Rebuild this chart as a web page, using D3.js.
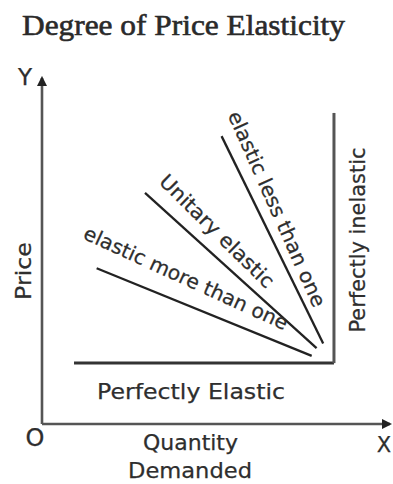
<!DOCTYPE html>
<html>
<head>
<meta charset="utf-8">
<script src="https://cdn.jsdelivr.net/npm/d3@7"></script>
<style>
  html, body { margin: 0; padding: 0; background: #fff; }
  svg { display: block; }
  text { fill: #2e2e2e; font-family: "DejaVu Sans", sans-serif; stroke: #2e2e2e; stroke-width: 0.25; }
</style>
</head>
<body>
<svg id="chart" width="393" height="484"></svg>
<script>
// Demand curves of different elasticity, in diagram units (quantity, price)
const curveNames = ["Perfectly Elastic", "Perfectly inelastic", "elastic more than one", "Unitary elastic", "elastic less than one"];
const perfectlyElastic   = [[9.2, 17.6], [83.9, 17.6]];
const perfectlyInelastic = [[83.9, 17.6], [83.9, 89.9]];
const elasticMoreThanOne = [[15.7, 45.0], [77.5, 19.7]];
const unitaryElastic     = [[29.6, 66.8], [78.9, 21.9]];
const elasticLessThanOne = [[51.6, 83.2], [80.8, 23.3]];

const titleText = "Degree of Price Elasticity";
const xAxisLabel = ["Quantity", "Demanded"];
const yAxisLabel = "Price";

const svg = d3.select("#chart");

const x = d3.scaleLinear().domain([0, 100]).range([42, 390]);
const y = d3.scaleLinear().domain([0, 100]).range([424, 78]);

// Arrowhead for the axes
svg.append("defs").append("marker")
  .attr("id", "arrow")
  .attr("viewBox", "0 0 10 10")
  .attr("refX", 8).attr("refY", 5)
  .attr("markerWidth", 4).attr("markerHeight", 4)
  .attr("orient", "auto")
  .append("path").attr("d", "M0,0 L10,5 L0,10 Z").attr("fill", "#222");

// Title
svg.append("text")
  .attr("x", 22).attr("y", 35)
  .attr("textLength", 323).attr("lengthAdjust", "spacingAndGlyphs")
  .style("font-family", "'Liberation Serif', serif")
  .style("font-size", "30px")
  .style("fill", "#2a2a2a")
  .style("stroke", "#2a2a2a").style("stroke-width", 0.6)
  .text(titleText);

// Axes without ticks
const xAxis = svg.append("g").attr("transform", `translate(0,${y(0)})`)
  .call(d3.axisBottom(x).tickValues([]).tickSizeOuter(0));
const yAxis = svg.append("g").attr("transform", `translate(${x(0)},0)`)
  .call(d3.axisLeft(y).tickValues([]).tickSizeOuter(0));
[xAxis, yAxis].forEach(g => g.select(".domain")
  .attr("stroke", "#555").attr("stroke-width", 2.6)
  .attr("marker-end", "url(#arrow)"));
// draw the domains from the origin outwards so the arrows sit at the far ends
yAxis.select(".domain").attr("d", `M0,${y(0)}V${y(100)}`);
xAxis.select(".domain").attr("d", `M${x(0)},0H${x(100)}`);

// Curves
const line = d3.line().x(d => x(d[0])).y(d => y(d[1]));
const curves = [
  { data: perfectlyElastic,   color: "#333", width: 3 },
  { data: perfectlyInelastic, color: "#555", width: 3 },
  { data: elasticMoreThanOne, color: "#222", width: 2.3 },
  { data: unitaryElastic,     color: "#222", width: 2.3 },
  { data: elasticLessThanOne, color: "#222", width: 2.3 }
];
svg.append("g").selectAll("path").data(curves).join("path")
  .attr("d", d => line(d.data))
  .attr("fill", "none")
  .attr("stroke", d => d.color)
  .attr("stroke-width", d => d.width)
  .attr("stroke-linecap", "butt");

// Curve labels
const labels = [
  { text: curveNames[0], cx: 191, cy: 391, angle: 0,   size: 22, len: 188 },
  { text: curveNames[1], cx: 357, cy: 240, angle: -90, size: 22, len: 185 },
  { text: curveNames[2], cx: 186, cy: 278, angle: 24.5, size: 20, len: 222 },
  { text: curveNames[3], cx: 217, cy: 231, angle: 44.5, size: 20, len: 152 },
  { text: curveNames[4], cx: 277, cy: 209, angle: 66,  size: 20, len: 212 }
];
svg.append("g").selectAll("text").data(labels).join("text")
  .attr("transform", d => `translate(${d.cx},${d.cy}) rotate(${d.angle})`)
  .attr("text-anchor", "middle")
  .attr("dominant-baseline", "central")
  .attr("textLength", d => d.len)
  .attr("lengthAdjust", "spacingAndGlyphs")
  .style("font-size", d => d.size + "px")
  .text(d => d.text);

// Axis letters and titles
svg.append("text").attr("x", 25).attr("y", 85).attr("text-anchor", "middle")
  .style("font-size", "23px").text("Y");
svg.append("text").attr("x", 35).attr("y", 446).attr("text-anchor", "middle")
  .style("font-size", "24px").text("O");
svg.append("text").attr("x", 384).attr("y", 452).attr("text-anchor", "middle")
  .style("font-size", "21px").text("X");

svg.append("text")
  .attr("transform", "translate(23,271) rotate(-90)")
  .attr("text-anchor", "middle").attr("dominant-baseline", "central")
  .attr("textLength", 58).attr("lengthAdjust", "spacingAndGlyphs")
  .style("font-size", "22px").text(yAxisLabel);

svg.append("text").attr("x", 190.5).attr("y", 450).attr("text-anchor", "middle")
  .attr("textLength", 95).attr("lengthAdjust", "spacingAndGlyphs")
  .style("font-size", "22px").text(xAxisLabel[0]);
svg.append("text").attr("x", 190).attr("y", 478).attr("text-anchor", "middle")
  .attr("textLength", 124).attr("lengthAdjust", "spacingAndGlyphs")
  .style("font-size", "22px").text(xAxisLabel[1]);
</script>
</body>
</html>
